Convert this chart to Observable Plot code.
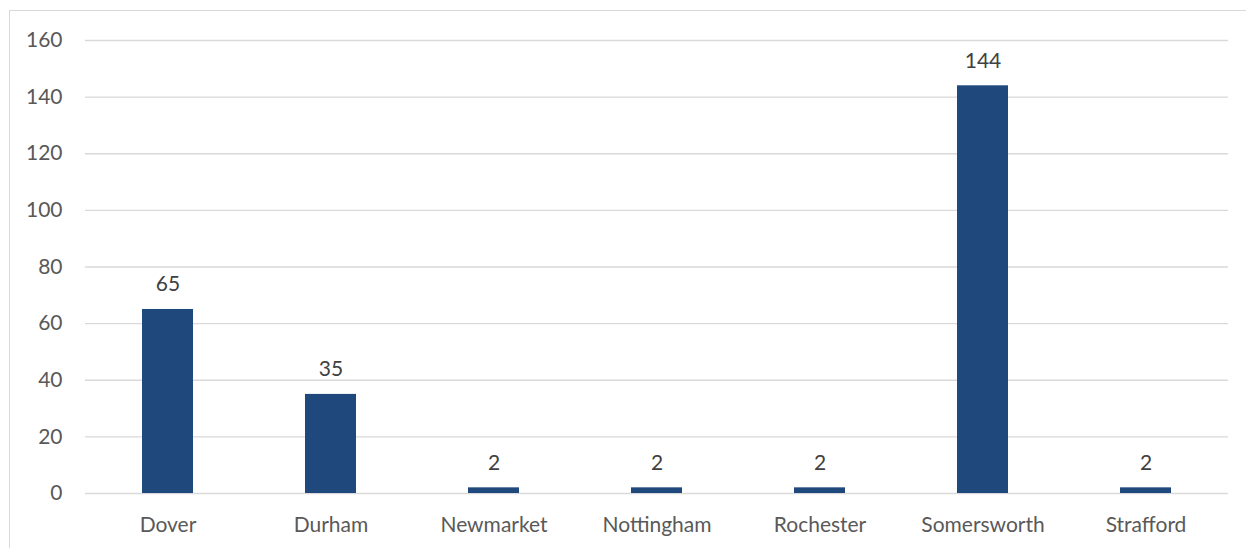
<!DOCTYPE html>
<html>
<head>
<meta charset="utf-8">
<script src="https://cdn.jsdelivr.net/npm/d3@7"></script>
<script src="https://cdn.jsdelivr.net/npm/@observablehq/plot@0.6"></script>
<style>
  html, body { margin: 0; padding: 0; background: #fff; overflow: hidden; }
  #wrap { position: relative; width: 1246px; height: 548px; }
  #frame { position: absolute; left: 9px; top: 10px; width: 1300px; height: 600px;
           border-left: 1.5px solid #D9D9D9; border-top: 1.5px solid #D9D9D9; box-sizing: border-box; }
  #chart { position: absolute; left: 0; top: 0; }
</style>
</head>
<body>
<div id="wrap"><div id="frame"></div><div id="chart"></div></div>
<script>
const towns = ["Dover", "Durham", "Newmarket", "Nottingham", "Rochester", "Somersworth", "Strafford"];
const counts = [65, 35, 2, 2, 2, 144, 2];
const yTicks = [0, 20, 40, 60, 80, 100, 120, 140, 160];

const data = towns.map((t, i) => ({town: t, count: counts[i]}));

const plot = Plot.plot({
  width: 1246,
  height: 548,
  marginLeft: 85,
  marginRight: 18,
  marginTop: 40,
  marginBottom: 55,
  style: {fontFamily: "Lato, 'Open Sans', sans-serif", fontSize: "21px", color: "#595959", background: "transparent"},
  x: {domain: towns, paddingInner: 0.69, paddingOuter: 0.345, label: null},
  y: {domain: [0, 160], label: null},
  marks: [
    Plot.ruleY(yTicks, {stroke: "#D9D9D9", strokeWidth: 1.3}),
    Plot.barY(data, {x: "town", y: "count", fill: "#1F497D"}),
    Plot.text(data, {x: "town", y: "count", text: d => String(d.count), dy: -25, fill: "#404040", fontSize: 21}),
    Plot.axisY({ticks: yTicks, tickSize: 0, tickPadding: 23, fontSize: 21, fill: "#595959"}),
    Plot.axisX({tickSize: 0, tickPadding: 24, fontSize: 21, fill: "#595959"})
  ]
});
document.getElementById("chart").appendChild(plot);
</script>
</body>
</html>
